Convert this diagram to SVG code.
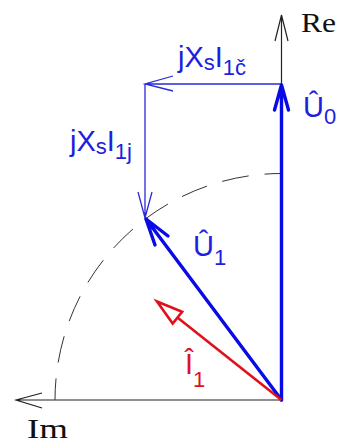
<svg xmlns="http://www.w3.org/2000/svg" width="339" height="444" viewBox="0 0 339 444">
<style>
.axis{stroke:#222;stroke-width:1.2;fill:none}
.arc{stroke:#333;stroke-width:1;fill:none;stroke-dasharray:27 16;stroke-dashoffset:10}
.thick{stroke:#0a0ae6;stroke-width:3.4;fill:none;stroke-linecap:round;stroke-linejoin:round}
.thin{stroke:#2a2ad8;stroke-width:1.3;fill:none}
.red{stroke:#e0101c;stroke-width:2.6;fill:none}
.sans{font-family:"Liberation Sans",Arial,sans-serif;font-size:29px}
.serif{font-family:"Liberation Serif","Times New Roman",serif;font-size:28px;fill:#111}
.blue{fill:#1e1ee0}
.rtxt{fill:#e0101c}
</style>
<rect width="339" height="444" fill="#fff"/>
<g id="axes">
<path class="axis" d="M281.5,400 V15 M275,41 L281.5,15 L288,41"/>
<path class="axis" d="M281.5,400 H16 M42,393 L16,400 L42,408"/>
<text class="serif" x="301" y="32" textLength="35" lengthAdjust="spacingAndGlyphs">Re</text>
<text class="serif" x="27" y="438" textLength="41" lengthAdjust="spacingAndGlyphs">Im</text>
</g>
<g id="arc">
<path class="arc" d="M281.5,173.5 A226.5,226.5 0 0 0 55,400"/>
</g>
<g id="connectors">
<g id="jXsI1c-vec">
<path class="thin" d="M281.5,84 H145 M173,76 L145,84 L173,91"/>
</g>
<g id="jXsI1j-vec">
<path class="thin" d="M145,84 V218 M138,192 L145,218 L152,192"/>
</g>
<g id="U0-vec">
<path class="thick" d="M281.5,400 V85 M274.5,110 L281.5,85 L288.5,110"/>
</g>
<g id="U1-vec">
<path class="thick" d="M281.5,400 L146,219 M155,245 L146,219 L168,236"/>
</g>
<g id="I1-vec">
<path class="red" d="M281.5,400 L177.4,317.6"/>
<polygon class="red" fill="#fff" points="157,301.5 172.7,323.5 182.1,311.7"/>
</g>
</g>
<g id="labels">
<text class="sans blue" x="178" y="67">jX<tspan font-size="22" dy="3">s</tspan><tspan dy="-3">I</tspan><tspan font-size="22" dy="8">1č</tspan></text>
<text class="sans blue" x="70" y="151">jX<tspan font-size="22" dy="3">s</tspan><tspan dy="-3">I</tspan><tspan font-size="22" dy="8">1j</tspan></text>
<text class="sans blue" x="303" y="117">Û<tspan font-size="22" dy="7">0</tspan></text>
<text class="sans blue" x="193" y="256">Û<tspan font-size="22" dy="9">1</tspan></text>
<text class="sans rtxt" x="185" y="374">Î<tspan font-size="22" dy="13">1</tspan></text>
</g>
</svg>
